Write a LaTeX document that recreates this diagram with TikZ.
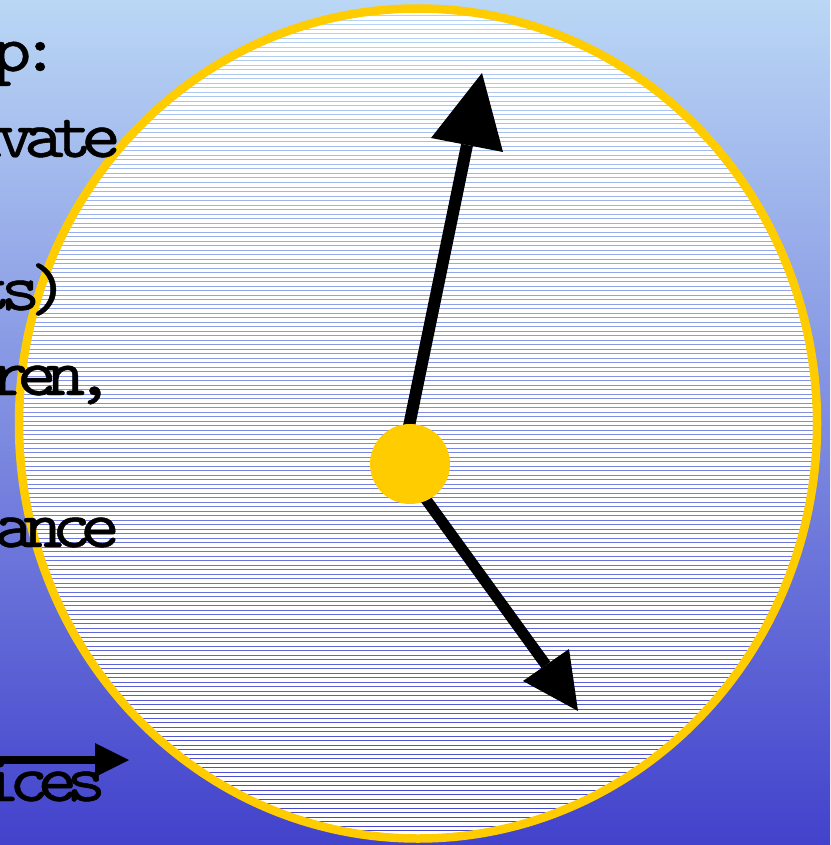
\documentclass[tikz,border=0pt]{standalone}
\usepackage{fontspec}
\usetikzlibrary{calc}
\definecolor{bgtop}{RGB}{186,215,245}
\definecolor{bgbot}{RGB}{66,66,204}
\definecolor{dialyellow}{RGB}{255,204,0}
\newfontfamily\slidefam{lmmono10-regular}[Extension=.otf,FakeStretch=1.12,FakeBold=0.7,LetterSpace=-16]
\newcommand{\slidefont}{\slidefam\fontsize{67pt}{67pt}\selectfont}
\tikzset{
  handline/.style={line width=#1, draw=black},
  handhead/.style={fill=black},
  slidetext/.style={anchor=base east, inner sep=0pt, font=\slidefont, text=black},
  hubdot/.style={circle, fill=dialyellow, minimum size=80pt, inner sep=0pt},
  stripe/.style={draw=white, line width=3.5pt},
  dialrim/.style={draw=dialyellow, line width=8.5pt},
}
\begin{document}
\begin{tikzpicture}[x=1pt,y=-1pt]
\useasboundingbox (0,0) rectangle (830,845);
\clip (0,0) rectangle (830,845);
% background
\shade[top color=bgtop, bottom color=bgbot] (0,0) rectangle (830,845);
% striped dial face
\begin{scope}
  \clip (418,423.5) ellipse [x radius=399, y radius=415];
  \foreach \k in {0,...,190} {
    \draw[stripe] (0,{-4.25+4.5*\k}) -- (830,{-4.25+4.5*\k});
  }
\end{scope}
\draw[dialrim] (418,423.5) ellipse [x radius=399, y radius=415];
% hands
\coordinate (pivot) at (410,464);
\coordinate (handroot) at (401,465);
\coordinate (tipA) at (482,73);
\coordinate (baseA) at (467,145);
\coordinate (cornerA1) at (431,138);
\coordinate (cornerA2) at (503,152);
\draw[handline=12pt] (handroot) -- (baseA);
\fill[handhead] (tipA) -- (cornerA1) -- (cornerA2) -- cycle;
\coordinate (tipB) at (578,711);
\coordinate (baseB) at (546,665);
\coordinate (cornerB1) at (523,681);
\coordinate (cornerB2) at (569,649);
\draw[handline=11pt] (handroot) -- (baseB);
\fill[handhead] (tipB) -- (cornerB1) -- (cornerB2) -- cycle;
\node[hubdot] (hub) at (pivot) {};
% text fragments
\node[slidetext] (t1) at (60,71) {p:};
\node[slidetext] (t2) at (121,157) {ivate};
\node[slidetext] (t3) at (69,310) {ts)};
\node[slidetext] (t4) at (114,395) {ren,};
\node[slidetext] (t5) at (120,547) {ance};
\node[slidetext] (t6) at (106,801) {ices};
% small arrow
\coordinate (tailC) at (-5,760);
\coordinate (baseC) at (96,760);
\coordinate (tipC) at (129,760);
\coordinate (cornerC1) at (95,743);
\coordinate (cornerC2) at (95,777);
\draw[handline=8pt] (tailC) -- (baseC);
\fill[handhead] (tipC) -- (cornerC1) -- (cornerC2) -- cycle;
\end{tikzpicture}
\end{document}
